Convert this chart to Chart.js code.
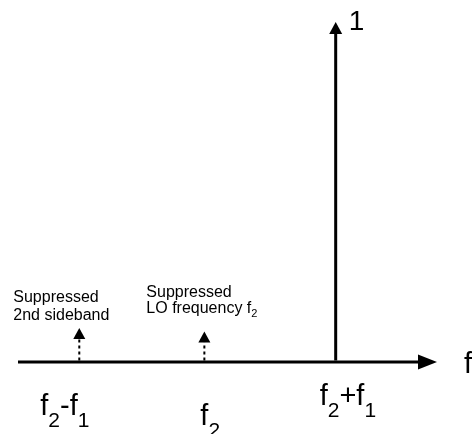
<!DOCTYPE html>
<html>
<head>
<meta charset="utf-8">
<script src="https://cdn.jsdelivr.net/npm/chart.js@4"></script>
<style>
  html, body { margin: 0; padding: 0; background: #fff; }
  canvas { display: block; }
</style>
</head>
<body>
<canvas id="spectrum" width="472" height="434"></canvas>
<script>
// spectral lines after mixing (x in units of f1)
const lineNames = ["f_2-f_1", "f_2", "f_2+f_1"];
const linePositions = [1, 2, 3.05];
const lineAmplitudes = [0.1, 0.09, 1];
const lineSuppressed = [true, true, false];
const lineNotes = [["Suppressed", "2nd sideband"], ["Suppressed", "LO frequency f_2"], []];
const peakLabel = "1";
const axisLabel = "f";

const FONT = "'Liberation Sans', Arial, sans-serif";

// draws text where "_x" means subscript x
function drawSubText(ctx, str, x, y, size, subSize, drop) {
  const parts = str.split(/(_.)/);
  for (const p of parts) {
    if (!p) continue;
    if (p[0] === "_") {
      ctx.font = subSize + "px " + FONT;
      ctx.fillText(p[1], x, y + drop);
      x += ctx.measureText(p[1]).width;
    } else {
      ctx.font = size + "px " + FONT;
      ctx.fillText(p, x, y);
      x += ctx.measureText(p).width;
    }
  }
}

// label placement relative to each line's foot on the axis
const nameOffsets = [[-39, 53], [-4, 63], [-16, 43]];
const noteOffsets = [[-66, -60, 18], [-58, -65, 16]];

const spectrumPlugin = {
  id: "spectrum",
  afterDatasetsDraw(chart) {
    const { ctx, scales: { x, y } } = chart;
    const y0 = y.getPixelForValue(0);
    const xStart = x.getPixelForValue(x.min);
    const xEnd = x.getPixelForValue(x.max);
    ctx.save();
    ctx.fillStyle = "#000";
    ctx.strokeStyle = "#000";
    ctx.textBaseline = "alphabetic";

    // frequency axis with arrow
    ctx.lineWidth = 3;
    ctx.beginPath();
    ctx.moveTo(xStart, y0);
    ctx.lineTo(xEnd - 18, y0);
    ctx.stroke();
    ctx.beginPath();
    ctx.moveTo(xEnd, y0);
    ctx.lineTo(xEnd - 19, y0 - 7.5);
    ctx.lineTo(xEnd - 19, y0 + 7.5);
    ctx.closePath();
    ctx.fill();
    drawSubText(ctx, axisLabel, xEnd + 27, y0 + 11, 29, 21, 12);

    // spectral lines
    linePositions.forEach((pos, i) => {
      const px = x.getPixelForValue(pos);
      const tip = y.getPixelForValue(lineAmplitudes[i]);
      const dotted = lineSuppressed[i];
      const headH = dotted ? 11 : 12;
      const headW = dotted ? 6 : 6.5;
      ctx.save();
      ctx.lineWidth = dotted ? 2 : 3;
      ctx.setLineDash(dotted ? [3, 3] : []);
      ctx.beginPath();
      ctx.moveTo(px, y0 - 1.5);
      ctx.lineTo(px, tip + headH);
      ctx.stroke();
      ctx.restore();
      ctx.beginPath();
      ctx.moveTo(px, tip);
      ctx.lineTo(px - headW, tip + headH);
      ctx.lineTo(px + headW, tip + headH);
      ctx.closePath();
      ctx.fill();

      const [nx, ny] = nameOffsets[i];
      drawSubText(ctx, lineNames[i], px + nx, y0 + ny, 29, 21, 12);

      if (lineNotes[i].length) {
        const [dx, dy, gap] = noteOffsets[i];
        lineNotes[i].forEach((t, k) => {
          drawSubText(ctx, t, px + dx, y0 + dy + k * gap, 16, 11, 4);
        });
      }
      if (!dotted) {
        drawSubText(ctx, peakLabel, px + 13, tip + 8, 28, 20, 10);
      }
    });
    ctx.restore();
  }
};

new Chart(document.getElementById("spectrum"), {
  type: "scatter",
  data: {
    datasets: linePositions.map((pos, i) => ({
      label: lineNames[i],
      data: [{ x: pos, y: 0 }, { x: pos, y: lineAmplitudes[i] }],
      pointRadius: 0,
      showLine: false
    }))
  },
  options: {
    responsive: false,
    animation: false,
    devicePixelRatio: 1,
    layout: { padding: { left: 18, right: 35, top: 22, bottom: 72 } },
    scales: {
      x: { display: false, min: 0.51, max: 3.86 },
      y: { display: false, min: 0, max: 1 }
    },
    plugins: { legend: { display: false }, tooltip: { enabled: false } }
  },
  plugins: [spectrumPlugin]
});
</script>
</body>
</html>
